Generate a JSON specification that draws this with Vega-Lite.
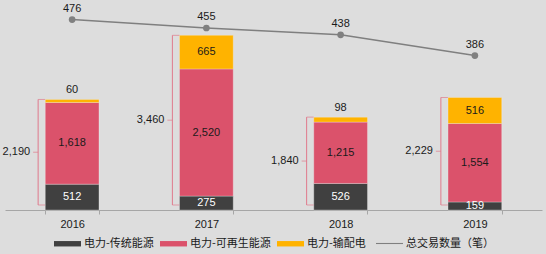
{
  "$schema": "https://vega.github.io/schema/vega-lite/v6.json",
  "width": 537,
  "height": 210,
  "autosize": {"type": "none"},
  "padding": {"left": 5, "top": 0, "right": 4, "bottom": 44},
  "background": "#dddddd",
  "config": {
    "view": {"stroke": null},
    "font": "Liberation Sans",
    "text": {"font": "Liberation Sans", "fontSize": 11}
  },
  "datasets": {
    "bars": [
      {"year": "2016", "series": "电力-传统能源", "order": 1, "value": 512},
      {"year": "2016", "series": "电力-可再生能源", "order": 2, "value": 1618},
      {"year": "2016", "series": "电力-输配电", "order": 3, "value": 60},
      {"year": "2017", "series": "电力-传统能源", "order": 1, "value": 275},
      {"year": "2017", "series": "电力-可再生能源", "order": 2, "value": 2520},
      {"year": "2017", "series": "电力-输配电", "order": 3, "value": 665},
      {"year": "2018", "series": "电力-传统能源", "order": 1, "value": 526},
      {"year": "2018", "series": "电力-可再生能源", "order": 2, "value": 1215},
      {"year": "2018", "series": "电力-输配电", "order": 3, "value": 98},
      {"year": "2019", "series": "电力-传统能源", "order": 1, "value": 159},
      {"year": "2019", "series": "电力-可再生能源", "order": 2, "value": 1554},
      {"year": "2019", "series": "电力-输配电", "order": 3, "value": 516}
    ],
    "totals": [
      {"year": "2016", "total": 2190},
      {"year": "2017", "total": 3460},
      {"year": "2018", "total": 1840},
      {"year": "2019", "total": 2229}
    ],
    "deals": [
      {"year": "2016", "count": 476, "series": "总交易数量（笔）"},
      {"year": "2017", "count": 455, "series": "总交易数量（笔）"},
      {"year": "2018", "count": 438, "series": "总交易数量（笔）"},
      {"year": "2019", "count": 386, "series": "总交易数量（笔）"}
    ]
  },
  "encoding": {
    "x": {
      "field": "year",
      "type": "ordinal",
      "scale": {"paddingInner": 0.6, "paddingOuter": 0.3},
      "axis": {
        "title": null,
        "labelAngle": 0,
        "tickBand": "extent",
        "domainColor": "#a6a6a6",
        "tickColor": "#a6a6a6",
        "tickSize": 4,
        "labelPadding": 4,
        "labelFont": "Liberation Sans",
        "labelFontSize": 11,
        "labelColor": "#1a1a1a"
      }
    }
  },
  "layer": [
    {
      "data": {"name": "bars"},
      "transform": [
        {"stack": "value", "groupby": ["year"], "sort": [{"field": "order", "order": "ascending"}], "as": ["y0", "y1"]}
      ],
      "layer": [
        {
          "mark": {"type": "bar", "stroke": "#f2f2f2", "strokeWidth": 0.6, "strokeOpacity": 0.5},
          "encoding": {
            "y": {"field": "y0", "type": "quantitative", "scale": {"domain": [0, 4160]}, "axis": null},
            "y2": {"field": "y1"},
            "color": {
              "field": "series",
              "type": "nominal",
              "scale": {
                "domain": ["电力-传统能源", "电力-可再生能源", "电力-输配电"],
                "range": ["#404040", "#db526b", "#ffb300"]
              },
              "legend": {
                "orient": "none",
                "legendX": 49,
                "legendY": 230,
                "direction": "horizontal",
                "title": null,
                "padding": 0,
                "symbolType": "M-1,-0.2H1V0.2H-1Z",
                "symbolSize": 729,
                "symbolStrokeWidth": 0,
                "symbolOpacity": 1,
                "labelFont": "Noto Sans CJK SC",
                "labelFontSize": 11,
                "labelColor": "#1a1a1a",
                "labelOffset": 3,
                "columnPadding": 6
              }
            }
          }
        },
        {
          "transform": [
            {"filter": "!(datum.series === '电力-输配电' && datum.value < 150)"},
            {"calculate": "(datum.y0 + datum.y1) / 2", "as": "mid"}
          ],
          "mark": {"type": "text", "baseline": "middle", "fontSize": 11},
          "encoding": {
            "y": {"field": "mid", "type": "quantitative", "scale": {"domain": [0, 4160]}, "axis": null},
            "text": {"field": "value", "type": "quantitative", "format": ","},
            "color": {"condition": {"test": "datum.series === '电力-传统能源'", "value": "#ffffff"}, "value": "#1a1a1a"}
          }
        },
        {
          "transform": [
            {"filter": "datum.series === '电力-输配电' && datum.value < 150"}
          ],
          "mark": {"type": "text", "baseline": "middle", "fontSize": 11, "dy": -9, "color": "#1a1a1a"},
          "encoding": {
            "y": {"field": "y1", "type": "quantitative", "scale": {"domain": [0, 4160]}, "axis": null},
            "text": {"field": "value", "type": "quantitative", "format": ","}
          }
        }
      ]
    },
    {
      "data": {"name": "totals"},
      "transform": [
        {"calculate": "datum.total / 2", "as": "half"}
      ],
      "layer": [
        {
          "mark": {"type": "rule", "color": "#e07a8c", "strokeWidth": 1, "xOffset": -34, "y2Offset": -5},
          "encoding": {
            "y": {"field": "total", "type": "quantitative", "scale": {"domain": [0, 4160]}, "axis": null},
            "y2": {"datum": 0}
          }
        },
        {
          "mark": {"type": "tick", "color": "#e07a8c", "thickness": 1, "size": 7, "xOffset": -30.5},
          "encoding": {
            "y": {"field": "total", "type": "quantitative", "scale": {"domain": [0, 4160]}, "axis": null}
          }
        },
        {
          "mark": {"type": "tick", "color": "#e07a8c", "thickness": 1, "size": 7, "xOffset": -30.5, "yOffset": -5},
          "encoding": {
            "y": {"datum": 0, "type": "quantitative", "scale": {"domain": [0, 4160]}, "axis": null}
          }
        },
        {
          "mark": {"type": "tick", "color": "#e07a8c", "thickness": 1, "size": 5, "xOffset": -36.5, "yOffset": -2.5},
          "encoding": {
            "y": {"field": "half", "type": "quantitative", "scale": {"domain": [0, 4160]}, "axis": null}
          }
        },
        {
          "mark": {"type": "text", "align": "right", "baseline": "middle", "fontSize": 11, "color": "#1a1a1a", "xOffset": -42, "dy": -2.5},
          "encoding": {
            "y": {"field": "half", "type": "quantitative", "scale": {"domain": [0, 4160]}, "axis": null},
            "text": {"field": "total", "type": "quantitative", "format": ","}
          }
        }
      ]
    },
    {
      "data": {"name": "deals"},
      "layer": [
        {
          "mark": {"type": "line", "strokeWidth": 1.5},
          "encoding": {
            "y": {"field": "count", "type": "quantitative", "scale": {"domain": [0, 525]}, "axis": null},
            "stroke": {
              "field": "series",
              "type": "nominal",
              "scale": {"domain": ["总交易数量（笔）"], "range": ["#7f7f7f"]},
              "legend": {
                "orient": "none",
                "legendX": 371,
                "legendY": 230,
                "direction": "horizontal",
                "title": null,
                "padding": 0,
                "symbolType": "M-1,-0.04H1V0.04H-1Z",
                "symbolSize": 729,
                "symbolStrokeWidth": 0,
                "symbolFillColor": "#7f7f7f",
                "labelFont": "Noto Sans CJK SC",
                "labelFontSize": 11,
                "labelColor": "#1a1a1a",
                "labelOffset": 3,
                "encode": {"symbols": {"update": {"fill": {"value": "#7f7f7f"}, "opacity": {"value": 1}}}}
              }
            }
          }
        },
        {
          "mark": {"type": "point", "filled": true, "size": 45, "color": "#808080", "opacity": 1},
          "encoding": {
            "y": {"field": "count", "type": "quantitative", "scale": {"domain": [0, 525]}, "axis": null}
          }
        },
        {
          "mark": {"type": "text", "baseline": "middle", "fontSize": 11, "dy": -11, "color": "#1a1a1a"},
          "encoding": {
            "y": {"field": "count", "type": "quantitative", "scale": {"domain": [0, 525]}, "axis": null},
            "text": {"field": "count", "type": "quantitative"}
          }
        }
      ]
    }
  ],
  "resolve": {"scale": {"y": "independent"}}
}
